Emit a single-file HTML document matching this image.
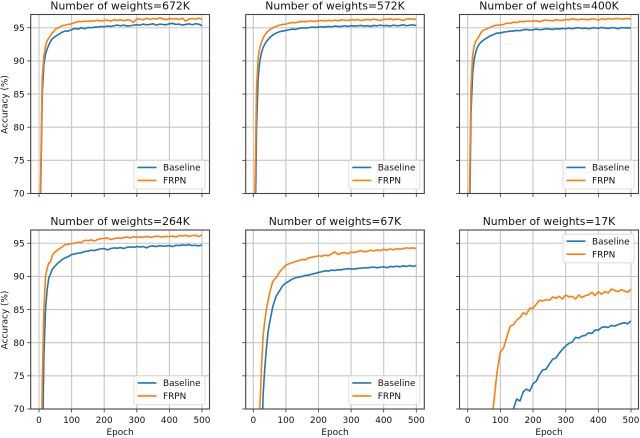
<!DOCTYPE html>
<html>
<head>
<meta charset="utf-8">
<title>Accuracy vs Epoch</title>
<style>
html,body{margin:0;padding:0;background:#fff;width:640px;height:438px;overflow:hidden}
svg{display:block;filter:blur(0.35px)}
text{font-family:"DejaVu Sans","Liberation Sans",sans-serif;fill:#111}
</style>
</head>
<body>
<svg id="chart" width="640" height="438" viewBox="0 0 640 438" xmlns="http://www.w3.org/2000/svg"></svg>
<script>
const epochs = [0,5,10,15,20,25,30,35,40,45,50,
60,70,80,90,100,
110,120,130,140,150,160,170,180,190,200,
210,220,230,240,250,260,270,280,290,300,
310,320,330,340,350,360,370,380,390,400,
410,420,430,440,450,460,470,480,490,500];
const xTicks = [0,100,200,300,400,500];
const yTicks = [70,75,80,85,90,95];
const seriesNames = ["Baseline","FRPN"];
const panelTitles = ["Number of weights=672K","Number of weights=572K","Number of weights=400K","Number of weights=264K","Number of weights=67K","Number of weights=17K"];

const base672 = [30,70,85,89.5,91,91.8,92.4,92.9,93.3,93.5,93.7,
94,94.3,94.5,94.5,94.7,
94.9,94.8,95,94.85,95.05,95,95.1,95.1,95.2,95.15,
95.25,95.2,95.3,95.4,95.3,95.4,95.25,95.3,95.4,95.45,
95.4,95.55,95.45,95.5,95.6,95.4,95.55,95.5,95.45,95.6,
95.65,95.5,95.55,95.4,95.5,95.6,95.45,95.6,95.55,95.3];
const frpn672 = [30,72,87.5,90.8,92.2,93.1,93.4,93.8,94.2,94.4,94.8,
95,95.3,95.4,95.5,95.6,
95.8,95.95,95.9,96,95.95,96.05,96,96.15,96,96.1,
96.15,96,96.2,96.1,96.2,96.05,96.2,96.15,95.8,96.35,
96.3,96.2,96.45,96.25,96.4,96.3,96.5,96.35,96.2,96.4,
96.3,96.4,96.25,96.45,96,96.3,96.4,96.3,96.45,96.3];
const base572 = [25,62,80,87.5,90,91.2,92,92.5,92.9,93.2,93.5,
93.9,94.2,94.4,94.5,94.6,
94.7,94.8,94.75,94.9,95,94.95,95,95.1,95.05,95.1,
95.15,95.1,95.2,95.15,95.25,95.2,95.2,95.3,95.2,95.3,
95.25,95.3,95.35,95.25,95.3,95.2,95.35,95.3,95.4,95.3,
95.35,95.25,95.4,95.3,95.35,95.45,95.3,95.4,95.45,95.3];
const frpn572 = [28,70,86,90.5,92,92.8,93.4,93.9,94.2,94.5,94.7,
95,95.2,95.4,95.5,95.55,
95.7,95.8,95.75,95.9,95.95,95.9,96,96,95.95,96.05,
96.1,96,96.1,96.05,96.15,96.05,96.2,96.15,96.1,96.2,
96.15,96.25,96.1,96.2,96.25,96.15,96.3,96.2,96.1,96.3,
96.25,96.35,96.2,96.3,96.25,96.1,96.3,96.35,96.25,96.3];
const base400 = [25,62,82,88,90.3,91.4,92.1,92.5,92.8,93,93.2,
93.5,93.8,94,94.2,94.2,
94.35,94.4,94.5,94.5,94.6,94.55,94.7,94.75,94.65,94.7,
94.8,94.7,94.75,94.85,94.8,94.75,94.85,94.8,94.9,94.85,
94.95,94.85,94.95,95,94.9,94.95,94.85,94.95,95,94.9,
95.05,94.95,94.9,95,95,94.85,95,95,94.95,95];
const frpn400 = [28,68,86,90.8,92.3,93,93.4,93.7,94.2,94.5,94.7,
94.85,95.1,95.3,95.4,95.4,
95.5,95.7,95.65,95.85,95.8,95.95,95.9,96,96,96,
96.05,95.9,96.1,96.15,96.1,96.05,96.2,96.15,96.1,96.25,
96.2,96.35,96.25,96.2,96.3,96.25,96.2,96.35,96.3,96.15,
96.35,96.25,96.4,96.3,96.35,96.4,96.3,96.35,96.4,96.3];
const base264 = [20,40,62,78,85,88,89.8,90.3,91,91.3,91.6,
92.1,92.5,92.8,93,93.3,
93.4,93.5,93.55,93.75,93.8,93.95,93.9,94.05,94.15,94.2,
94,94.2,94.3,94.25,94.35,94.2,94.4,94.45,94.4,94.5,
94.45,94.5,94.3,94.55,94.6,94.5,94.65,94.55,94.6,94.65,
94.5,94.7,94.65,94.75,94.7,94.8,94.65,94.7,94.6,94.75];
const frpn264 = [25,52,74,85,90,91.2,92,92.2,93,93.5,93.7,
94.1,94.4,94.8,94.85,94.95,
95,95.15,95.1,95.45,95.4,95.5,95.35,95.55,95.7,95.75,
95.8,95.55,95.7,95.8,95.75,95.85,95.95,95.8,96,95.9,
95.95,95.9,96.05,95.9,95.95,96.1,96,95.95,96.05,96,
96.1,95.95,96.15,96.1,96.2,96.05,96.15,96.2,96,96.25];
const base67 = [10,20,30,42,52,62,72,76,79,81.5,83,
85.5,87,87.8,88.6,89,
89.3,89.6,89.8,89.9,90,90.15,90.2,90.35,90.45,90.6,
90.7,90.85,90.8,90.95,90.9,91,91,91.1,91.15,91.15,
91.1,91.2,91.25,91.3,91.3,91.35,91.4,91.3,91.4,91.45,
91.3,91.5,91.45,91.55,91.45,91.6,91.5,91.65,91.5,91.65];
const frpn67 = [10,28,45,58,70,76,81,83.2,85,86.2,87.5,
89.3,89.8,90.6,91.2,91.7,
91.9,92.1,92.25,92.4,92.55,92.5,92.8,92.9,93,93.1,
93.05,93.2,93.1,93.4,93.7,93.3,93.5,93.6,93.4,93.7,
93.6,93.75,93.9,93.7,93.8,93.95,93.85,94,93.9,94.1,
93.95,94.15,94,94.2,94.1,94.2,94.3,94.25,94.3,94.2];
const base17 = [5,10,15,20,25,30,35,38,40,42,44,
48,51,54,57,60,
63,66,68,70,71.5,71.2,72.6,73,72.7,73.8,
74.2,75.2,75.9,76,76.8,77.5,77.7,78.4,79,79.5,
79.9,80.1,80.8,80.7,81,81.1,81.5,81.4,81.9,81.9,
82.3,82.4,82.3,82.6,82.5,82.7,82.9,83,82.85,83.3];
const frpn17 = [10,15,20,25,30,35,40,44,48,52,55,
62,67,71,75.6,78.6,
79.2,80.9,82.5,82.7,83.4,83.8,84.5,84.3,85.2,85.2,
85.8,86.4,86.3,86.5,86.4,86.9,86.7,87,86.6,87.2,
86.9,87,86.6,87.2,86.8,87.1,87.2,87.6,87.1,87.7,
87.3,87.7,87.5,88.1,87.9,87.7,88,87.8,87.6,88.1];

const baselineSeries = [base672,base572,base400,base264,base67,base17];
const frpnSeries = [frpn672,frpn572,frpn400,frpn264,frpn67,frpn17];

const NS = "http://www.w3.org/2000/svg";
const svg = document.getElementById("chart");
const colors = ["#1f77b4","#ff7f0e"];
const yMin = 70;
const frames = [
 {l:30.7,r:209.5,t:14.5,b:193.5,x0:39,x1:202},
 {l:245.7,r:424.3,t:14.5,b:193.5,x0:253.3,x1:416.3},
 {l:459.5,r:638.5,t:14.5,b:193.5,x0:467.7,x1:631},
 {l:30.7,r:209.5,t:230,b:409,x0:39,x1:202},
 {l:245.7,r:424.3,t:230,b:409,x0:253.3,x1:416.3},
 {l:459.5,r:638.5,t:230,b:409,x0:467.7,x1:631}
];
function mk(tag, attrs, parent, txt){
  const e = document.createElementNS(NS, tag);
  for (const k in attrs) e.setAttribute(k, attrs[k]);
  if (txt !== undefined) e.textContent = txt;
  parent.appendChild(e);
  return e;
}
/* keep only the part of a series at or above the axis minimum, entering at the crossing */
function visiblePoints(vals, xScale, yScale){
  const out = [];
  vals.forEach(function(v, i){
    if (v < yMin) return;
    if (i > 0 && vals[i - 1] < yMin) {
      const frac = (yMin - vals[i - 1]) / (v - vals[i - 1]);
      const ex = epochs[i - 1] + frac * (epochs[i] - epochs[i - 1]);
      out.push(xScale(ex).toFixed(2) + "," + yScale(yMin).toFixed(2));
    }
    out.push(xScale(epochs[i]).toFixed(2) + "," + yScale(v).toFixed(2));
  });
  return out.join(" ");
}
frames.forEach(function(f, p){
  const xScale = function(v){ return f.x0 + (v / 500) * (f.x1 - f.x0); };
  const yScale = function(v){ return f.b - ((v - yMin) / 27) * (f.b - f.t); };
  const panel = mk("g", {}, svg);
  
  
  const clip = mk("clipPath", {id:"clip" + p}, panel);
  mk("rect", {x:f.l, y:f.t, width:f.r - f.l, height:f.b - f.t}, clip);

  xTicks.forEach(function(t){
    const x = xScale(t);
    const g = mk("line", {x1:x, x2:x, y1:f.t, y2:f.b, stroke:"#c6c6c6", "stroke-width":1.1}, panel);
    
    
    const m = mk("line", {x1:x, x2:x, y1:f.b, y2:f.b + 3.4, stroke:"#333", "stroke-width":0.8}, panel);
    
    
    if (p >= 3) {
      const l = mk("text", {x:x, y:f.b + 14, "text-anchor":"middle", "font-size":8.9}, panel, String(t));
      
      
    }
  });
  yTicks.forEach(function(t){
    const y = yScale(t);
    const g = mk("line", {x1:f.l, x2:f.r, y1:y, y2:y, stroke:"#c6c6c6", "stroke-width":1.1}, panel);
    
    
    const m = mk("line", {x1:f.l - 3.4, x2:f.l, y1:y, y2:y, stroke:"#333", "stroke-width":0.8}, panel);
    
    
    if (p % 3 === 0) {
      const l = mk("text", {x:f.l - 6, y:y + 3.2, "text-anchor":"end", "font-size":8.9}, panel, String(t));
      
      
    }
  });

  [baselineSeries[p], frpnSeries[p]].forEach(function(vals, s){
    const line = mk("polyline", {points:visiblePoints(vals, xScale, yScale), fill:"none", stroke:colors[s], "stroke-width":1.6, "stroke-linejoin":"round", "clip-path":"url(#clip" + p + ")"}, panel);
    
    
  });

  const frame = mk("rect", {x:f.l, y:f.t, width:f.r - f.l, height:f.b - f.t, fill:"none", stroke:"#444", "stroke-width":1.1}, panel);
  
  

  const title = mk("text", {x:(f.l + f.r) / 2, y:f.t - 4.8, "text-anchor":"middle", "font-size":10.8}, panel, panelTitles[p]);
  
  

  if (p >= 3) {
    const xl = mk("text", {x:(f.l + f.r) / 2, y:f.b + 26, "text-anchor":"middle", "font-size":8.9}, panel, "Epoch");
    
    
  }
  if (p % 3 === 0) {
    const cy = (f.t + f.b) / 2 + 0.5;
    const yl = mk("text", {x:0, y:0, transform:"translate(7.5," + cy + ") rotate(-90)", "text-anchor":"middle", "font-size":8.9}, panel, "Accuracy (%)");
    
    
  }

  const legW = 71, legH = 28.6;
  const legX = f.r - 4.5 - legW;
  const legY = p === 5 ? f.t + 4.2 : f.b - 4.5 - legH;
  const legend = mk("g", {}, panel);
  
  
  const box = mk("rect", {x:legX, y:legY, width:legW, height:legH, rx:1.8, fill:"#fff", "fill-opacity":0.8, stroke:"#d6d6d6", "stroke-width":0.8}, legend);
  
  
  seriesNames.forEach(function(n, s){
    const ly = legY + 7 + s * 13;
    const sw = mk("line", {x1:legX + 3.5, x2:legX + 22.5, y1:ly, y2:ly, stroke:colors[s], "stroke-width":1.6}, legend);
    
    
    const tx = mk("text", {x:legX + 29, y:ly + 3.1, "font-size":8.9}, legend, n);
    
    
  });
});
</script>
</body>
</html>
